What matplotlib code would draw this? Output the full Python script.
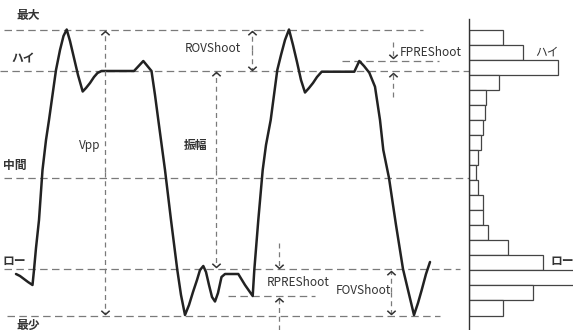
import matplotlib
matplotlib.use('Agg')
import matplotlib.pyplot as plt
import numpy as np

plt.rcParams['font.family'] = ['Noto Sans CJK JP', 'DejaVu Sans']

# reference levels (y grows downwards, like the picture)
level_names = ['最大', 'ハイ', '中間', 'ロー', '最少']
level_values = [29.5, 71, 178, 269, 315.5]
fpre_level = 61
rpre_level = 296

# waveform samples
wave_t = [16, 20, 24, 28, 32.5, 34, 36, 39, 42.5, 46, 49, 52.5, 56, 60, 63.5, 66.7,
          70, 74, 78, 82.7, 86, 90, 94, 97.5, 101.5, 134, 143.3, 151.5, 155, 158.3,
          165, 171, 177.3, 181, 185, 189, 193, 197, 200, 203.3, 206, 209, 212, 215,
          218, 221.5, 225, 238.3, 245, 252.7, 254.3, 258.3, 262.7, 266, 270.7, 274,
          277.3, 281, 285, 289, 293, 297, 301, 305, 309, 313, 317, 321.7, 354.3,
          359.3, 364, 369.3, 375, 380, 383.3, 389, 396, 403, 408, 414, 418, 421.7,
          426, 430]
wave_v = [274, 276, 279, 282, 285, 270, 248, 220, 170, 140, 120, 95, 70, 50, 36, 29.5,
          41, 58, 75, 91.5, 88, 83, 77, 73, 71, 71, 61, 71, 95, 120,
          170, 220, 270, 295, 315, 305, 292, 280, 270, 266, 272, 285, 297, 301.5,
          293, 277, 274, 274, 285, 296, 270, 220, 170, 145, 120, 95,
          70, 55, 40, 29.5, 45, 62, 80, 92.5, 88, 83, 77, 71.7, 71.7,
          61, 66, 72.7, 86.7, 120, 150, 178, 225, 269, 290, 315, 303, 290,
          274, 262]

# histogram counts, top bin to bottom bin
hist_values = [34, 54, 89, 30, 17, 16, 14, 12, 9, 7, 9, 14, 14, 19, 39, 74, 120, 64, 34]

dash_col = '#7a7a7a'
text_col = '#333333'

fig = plt.figure(figsize=(5.73, 3.30), dpi=100)
ax = fig.add_axes([0, 0, 469 / 573, 1])
axh = fig.add_axes([469 / 573, 0, 104 / 573, 1])
ax.set_xlim(0, 469)
ax.set_ylim(330, 0)
axh.set_xlim(0, 104)
axh.set_ylim(330, 0)
ax.axis('off')

# horizontal reference lines
starts = [4, 0, 4, 4, 7]
ends = [423, 469, 469, 460, 440]
for y, x0, x1 in zip(level_values, starts, ends):
    ax.plot([x0, x1], [y, y], color=dash_col, lw=0.9, ls=(0, (6, 3.5)))
ax.plot([342, 439], [fpre_level, fpre_level], color=dash_col, lw=0.9, ls=(0, (6, 3.5)))
ax.plot([228, 315], [rpre_level, rpre_level], color=dash_col, lw=0.9, ls=(0, (6, 3.5)))

# waveform
ax.plot(wave_t, wave_v, color='#222222', lw=1.8,
        solid_joinstyle='round', solid_capstyle='round')

chevron_up = [(-1, -0.9), (0, 0), (1, -0.9)]
chevron_down = [(-1, 0.9), (0, 0), (1, 0.9)]


def seta(x, y0, y1):
    # dashed shaft from y0 to y1, head at y1
    ax.plot([x, x], [y0, y1], color=dash_col, lw=0.9, ls=(0, (4, 3)))
    marker = chevron_up if y1 < y0 else chevron_down
    ax.plot([x], [y1], marker=marker, ms=6, mfc='none', mec='#333333', mew=1.1)


def seta_dupla(x, y0, y1):
    mid = (y0 + y1) / 2
    seta(x, mid, y0)
    seta(x, mid, y1)


seta_dupla(105, level_values[0] + 1, level_values[4] - 1.5)
seta_dupla(216, level_values[1] + 1, level_values[3] - 2)
seta_dupla(252, level_values[0] + 1, level_values[1] - 1)
seta_dupla(391, level_values[3] + 2, level_values[4] - 2)
seta(393, 42, fpre_level - 3)
seta(393, 97, level_values[1] + 2)
seta(279, 243, level_values[3] - 1)
seta(279, 330, rpre_level + 2)

# texts
label_pos = [(28, 16), (23, 59), (15, 165), (14, 261), (28, 325)]
for name, (x, y) in zip(level_names, label_pos):
    ax.text(x, y, name, ha='center', va='center', fontsize=8.5,
            fontweight='bold', color=text_col)

ax.text(90, 145, 'Vpp', ha='center', va='center', fontsize=8.5, color=text_col)
ax.text(196, 146, '振幅', ha='center', va='center', fontsize=8.5,
        fontweight='bold', color=text_col)
ax.text(213, 48, 'ROVShoot', ha='center', va='center', fontsize=8.5, color=text_col)
ax.text(431, 52, 'FPREShoot', ha='center', va='center', fontsize=8.5, color=text_col)
ax.text(298, 283, 'RPREShoot', ha='center', va='center', fontsize=8.5, color=text_col)
ax.text(363, 290, 'FOVShoot', ha='center', va='center', fontsize=8.5, color=text_col)

# histogram at the right
edges = np.linspace(level_values[0], level_values[4], len(hist_values) + 1)
centers = (edges[:-1] + edges[1:]) / 2
step = edges[1] - edges[0]
axh.barh(centers, hist_values, height=step, color='white',
         edgecolor='#444444', lw=0.9)
for s in ['top', 'right', 'bottom']:
    axh.spines[s].set_visible(False)
axh.spines['left'].set_bounds(19, 330)
axh.spines['left'].set_color('#333333')
axh.spines['left'].set_linewidth(1.0)
axh.set_xticks([])
axh.set_yticks([])
axh.patch.set_alpha(0)

axh.text(78, 52, 'ハイ', ha='center', va='center', fontsize=8.5, color=text_col)
axh.text(93, 261, 'ロー', ha='center', va='center', fontsize=8.5,
         fontweight='bold', color=text_col, clip_on=False)

fig.savefig('out.png', dpi=100)
